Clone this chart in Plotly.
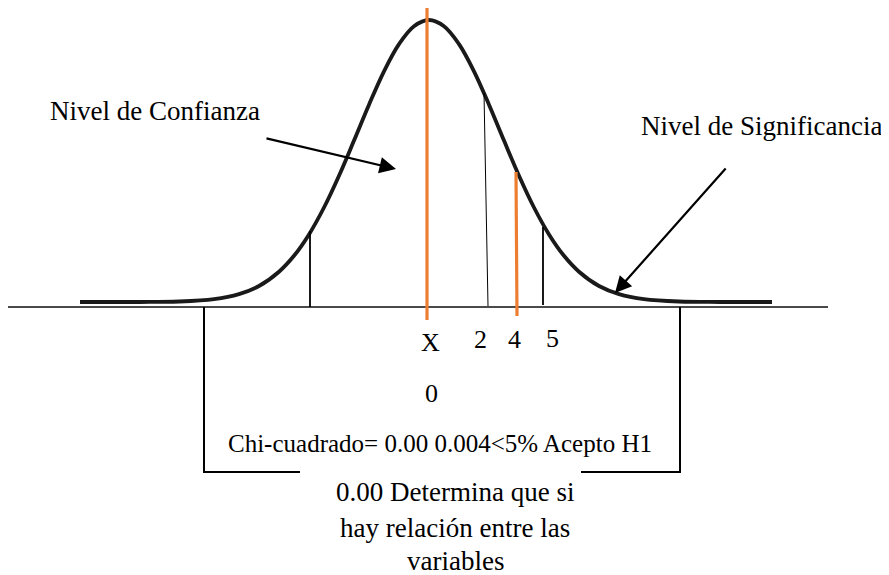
import plotly.graph_objects as go

# bell curve (x, y in image pixels, y grows downward)
curve_x = [80, 140, 179, 214, 239, 259, 279, 294, 309, 324, 339, 354, 369, 384, 399, 414,
           429, 444, 459, 474, 489, 504, 519, 534, 549, 564, 579, 599, 619, 644, 679, 720, 772]
curve_y = [302, 302, 301.5, 299.1, 294.1, 286, 271.7, 255.8, 234.4, 207.5, 175.7, 140.6, 104.7, 71.3, 44.1, 26.2,
           20, 26.2, 44.1, 71.3, 104.7, 140.6, 175.7, 207.5, 234.4, 255.8, 271.7, 286, 294.1, 299.1, 301.5, 302, 302]

baseline_x = [8, 828]
baseline_y = [307, 307]

# vertical markers under the curve: (x_top, y_top, x_bottom, y_bottom)
black_marks = [(310, 231, 310, 307), (543, 227, 543, 305)]
thin_marks = [(484, 93, 488, 306)]
orange_marks = [(427, 8, 427, 320), (516, 172, 517, 316)]

# bracket below the axis
bracket_left_x = [204, 204, 300]
bracket_left_y = [307, 472, 472]
bracket_right_x = [581, 680, 680]
bracket_right_y = [472, 472, 307]

# arrows: tail -> head
arrow_tails = [(265, 138), (727, 167)]
arrow_heads = [(396, 169), (615, 293)]

axis_labels = ["X", "2", "4", "5", "0"]
axis_label_x = [430, 480, 514, 552, 431]
axis_label_y = [342, 339, 339, 338, 393]

side_labels = ["Nivel de Confianza", "Nivel de Significancia"]
side_label_x = [155, 761]
side_label_y = [111, 126]

chi_text = "Chi-cuadrado= 0.00 0.004<5% Acepto H1"
conclusion_lines = ["0.00 Determina que si", "hay relación entre las", "variables"]
conclusion_y = [492, 528, 561]

FONT = "Liberation Serif"
ORANGE = "#ED7D31"

fig = go.Figure()

fig.add_trace(go.Scatter(x=baseline_x, y=baseline_y, mode="lines",
                         line=dict(color="#4a4a4a", width=2), hoverinfo="skip"))
fig.add_trace(go.Scatter(x=curve_x, y=curve_y, mode="lines", line_shape="spline",
                         line=dict(color="#1a1a1a", width=3.8), hoverinfo="skip"))

for x0, y0, x1, y1 in black_marks:
    fig.add_trace(go.Scatter(x=[x0, x1], y=[y0, y1], mode="lines",
                             line=dict(color="black", width=1.8), hoverinfo="skip"))
for x0, y0, x1, y1 in thin_marks:
    fig.add_trace(go.Scatter(x=[x0, x1], y=[y0, y1], mode="lines",
                             line=dict(color="black", width=1), hoverinfo="skip"))
for x0, y0, x1, y1 in orange_marks:
    fig.add_trace(go.Scatter(x=[x0, x1], y=[y0, y1], mode="lines",
                             line=dict(color=ORANGE, width=3.2), hoverinfo="skip"))

fig.add_trace(go.Scatter(x=bracket_left_x, y=bracket_left_y, mode="lines",
                         line=dict(color="black", width=2), hoverinfo="skip"))
fig.add_trace(go.Scatter(x=bracket_right_x, y=bracket_right_y, mode="lines",
                         line=dict(color="black", width=2), hoverinfo="skip"))

for (tx, ty), (hx, hy) in zip(arrow_tails, arrow_heads):
    fig.add_annotation(x=hx, y=hy, ax=tx, ay=ty, xref="x", yref="y", axref="x", ayref="y",
                       text="", showarrow=True, arrowhead=2, arrowsize=1.5,
                       arrowwidth=2.2, arrowcolor="black")

for txt, x, y in zip(axis_labels, axis_label_x, axis_label_y):
    fig.add_annotation(x=x, y=y, text=txt, showarrow=False,
                       font=dict(family=FONT, size=26, color="black"))

for txt, x, y in zip(side_labels, side_label_x, side_label_y):
    fig.add_annotation(x=x, y=y, text=txt, showarrow=False,
                       font=dict(family=FONT, size=27, color="black"))

fig.add_annotation(x=440, y=443, text=chi_text, showarrow=False,
                   font=dict(family=FONT, size=25, color="black"))

for txt, y in zip(conclusion_lines, conclusion_y):
    fig.add_annotation(x=455, y=y, text=txt, showarrow=False,
                       font=dict(family=FONT, size=27, color="black"))

# the page body keeps an 8px margin, so the figure starts 8px in;
# the axis ranges start at 8 so data units still equal page pixels
fig.update_layout(
    width=881, height=567,
    margin=dict(l=0, r=0, t=0, b=0),
    showlegend=False,
    plot_bgcolor="white", paper_bgcolor="white",
    xaxis=dict(range=[8, 889], visible=False, fixedrange=True),
    yaxis=dict(range=[575, 8], visible=False, fixedrange=True),
)

fig.write_html("out.html")
